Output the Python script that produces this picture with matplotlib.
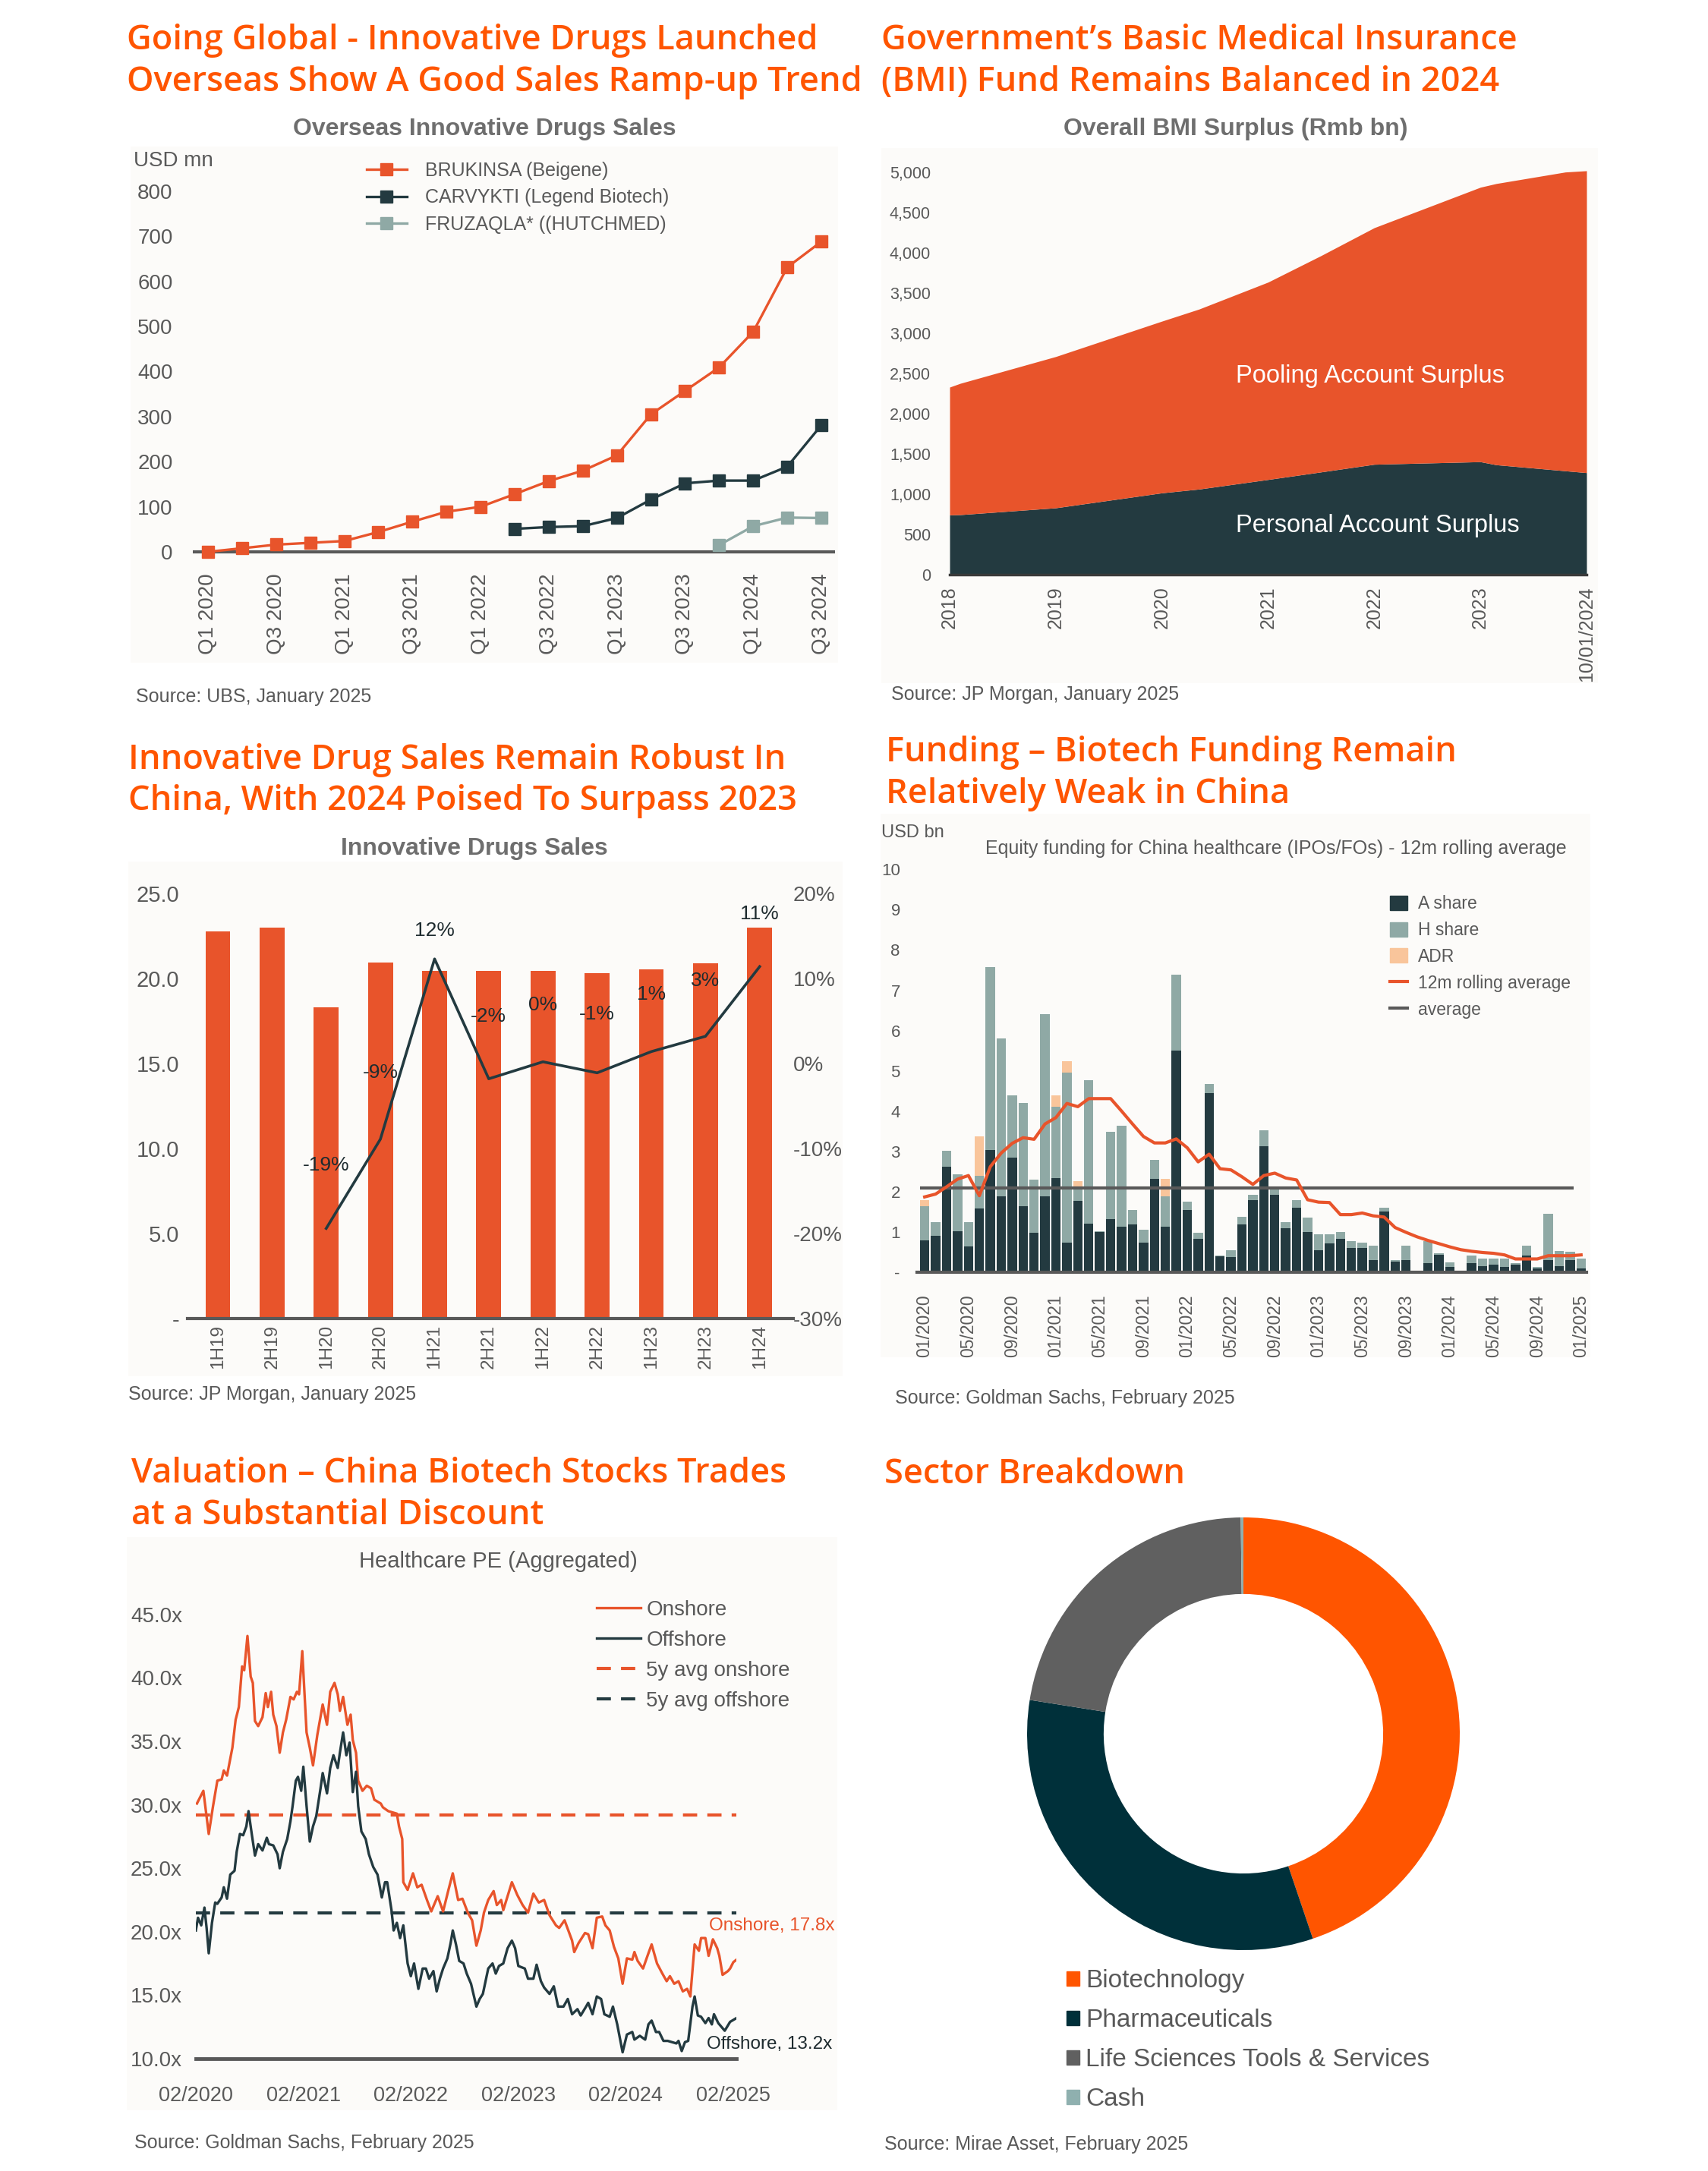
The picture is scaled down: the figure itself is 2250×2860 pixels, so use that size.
import numpy as np
import pandas as pd
import matplotlib.pyplot as plt
from matplotlib.patches import Rectangle, Patch
from matplotlib.lines import Line2D

plt.rcParams['font.family'] = ['Liberation Sans', 'DejaVu Sans']

# ==============================
# COLOURS
# ==============================
TITLE = '#FF5500'
ORANGE = '#E8542B'
DARK = '#233A40'
TEAL = '#8FA9A5'
PEACH = '#F9C59B'
GREY = '#595959'
SUB = '#6E6E6E'
BG = '#FCFBF9'

# ==============================
# DATA
# ==============================
# Overseas innovative drug sales (USD mn)
quarters = ['Q1 2020', 'Q2 2020', 'Q3 2020', 'Q4 2020', 'Q1 2021', 'Q2 2021', 'Q3 2021',
            'Q4 2021', 'Q1 2022', 'Q2 2022', 'Q3 2022', 'Q4 2022', 'Q1 2023', 'Q2 2023',
            'Q3 2023', 'Q4 2023', 'Q1 2024', 'Q2 2024', 'Q3 2024']
brukinsa = [0, 8, 16, 20, 24, 44, 67, 89, 100, 128, 157, 180, 214, 305, 357, 409, 488, 631, 688]
carvykti = [np.nan] * 9 + [51, 55, 57, 75, 116, 152, 158, 158, 189, 281]
fruzaqla = [np.nan] * 15 + [15, 57, 76, 75]

# BMI surplus (Rmb bn)
bmi_labels = ['2018', '2019', '2020', '2021', '2022', '2023', '10/01/2024']
bmi_pos = [0, 0.1, 1, 2, 2.35, 3, 3.5, 4, 5, 5.15, 5.8, 6]
bmi_personal = [742, 745, 830, 1016, 1063, 1182, 1276, 1371, 1403, 1365, 1290, 1267]
bmi_total = [2330, 2377, 2710, 3150, 3300, 3635, 3965, 4311, 4814, 4860, 5003, 5019]

# Innovative drug sales in China
halves = ['1H19', '2H19', '1H20', '2H20', '1H21', '2H21', '1H22', '2H22', '1H23', '2H23', '1H24']
sales = [22.75, 23.0, 18.3, 20.95, 20.45, 20.45, 20.45, 20.3, 20.55, 20.9, 23.0]
growth = [np.nan, np.nan, -19.4, -8.9, 12.3, -1.8, 0.2, -1.1, 1.4, 3.2, 11.4]

# Equity funding for China healthcare (USD bn), monthly 01/2020 - 01/2025
a_share = [0.80, 0.90, 2.61, 1.02, 0.64, 1.59, 3.03, 1.89, 2.85, 1.64,
           0.98, 1.89, 2.34, 0.74, 1.77, 1.20, 1.00, 1.32, 1.13, 1.19,
           0.73, 2.31, 1.13, 5.51, 1.54, 0.83, 4.45, 0.39, 0.38, 1.19,
           1.79, 3.12, 1.92, 1.10, 1.60, 0.99, 0.54, 0.71, 0.83, 0.61,
           0.61, 0.31, 1.51, 0.27, 0.31, 0.00, 0.23, 0.44, 0.13, 0.00,
           0.23, 0.16, 0.18, 0.14, 0.18, 0.41, 0.10, 0.31, 0.16, 0.31, 0.10]
h_share = [0.83, 0.34, 0.40, 1.42, 0.60, 0.80, 4.55, 3.92, 1.54, 2.56,
           1.31, 4.52, 1.77, 4.21, 0.36, 3.56, 0.02, 2.16, 2.51, 0.35,
           0.32, 0.47, 0.76, 1.87, 0.22, 0.15, 0.22, 0.02, 0.17, 0.18,
           0.13, 0.41, 0.15, 0.14, 0.19, 0.36, 0.41, 0.24, 0.16, 0.17,
           0.13, 0.35, 0.09, 0.04, 0.35, 0.00, 0.55, 0.04, 0.11, 0.00,
           0.18, 0.17, 0.16, 0.20, 0.04, 0.25, 0.03, 1.15, 0.36, 0.20, 0.23]
adr = [0.16, 0, 0, 0, 0, 0.98, 0, 0, 0, 0,
       0, 0, 0.28, 0.28, 0.13, 0, 0, 0, 0, 0,
       0, 0, 0.42, 0, 0, 0, 0, 0, 0, 0,
       0, 0, 0, 0, 0, 0, 0, 0, 0, 0,
       0, 0, 0, 0, 0, 0, 0, 0, 0, 0,
       0, 0, 0, 0, 0, 0, 0, 0, 0, 0, 0]
rolling = [1.87, 1.94, 2.12, 2.31, 2.40, 1.90, 2.62, 2.96, 3.20, 3.34,
           3.30, 3.68, 3.84, 4.19, 4.11, 4.31, 4.31, 4.31, 4.00, 3.68,
           3.37, 3.21, 3.21, 3.31, 3.09, 2.74, 2.93, 2.57, 2.54, 2.37,
           2.18, 2.40, 2.46, 2.34, 2.29, 1.80, 1.74, 1.73, 1.43, 1.43,
           1.47, 1.40, 1.37, 1.11, 0.99, 0.88, 0.79, 0.71, 0.63, 0.56,
           0.52, 0.49, 0.47, 0.43, 0.33, 0.33, 0.33, 0.41, 0.41, 0.41, 0.43]
funding_avg = 2.1

# Healthcare PE (years since 02/2020)
pe_on_t = [0.01, 0.07, 0.12, 0.16, 0.20, 0.24, 0.26, 0.29, 0.34, 0.37, 0.40, 0.43, 0.45, 0.48,
           0.51, 0.53, 0.55, 0.58, 0.62, 0.65, 0.67, 0.70, 0.72, 0.75, 0.78, 0.81, 0.84, 0.88,
           0.91, 0.94, 0.96, 0.99, 1.03, 1.06, 1.09, 1.13, 1.18, 1.22, 1.25, 1.29, 1.32, 1.34,
           1.37, 1.41, 1.44, 1.46, 1.49, 1.51, 1.55, 1.59, 1.63, 1.66, 1.72, 1.74, 1.79, 1.87,
           1.89, 1.92, 1.93, 1.97, 2.02, 2.06, 2.10, 2.15, 2.19, 2.25, 2.30, 2.35, 2.39, 2.44,
           2.48, 2.53, 2.57, 2.61, 2.65, 2.68, 2.72, 2.77, 2.80, 2.84, 2.86, 2.94, 2.99, 3.04,
           3.09, 3.14, 3.19, 3.24, 3.29, 3.35, 3.38, 3.43, 3.50, 3.52, 3.56, 3.62, 3.65, 3.69,
           3.73, 3.78, 3.81, 3.85, 3.89, 3.93, 3.97, 4.01, 4.06, 4.08, 4.11, 4.16, 4.21, 4.24,
           4.29, 4.34, 4.38, 4.41, 4.45, 4.49, 4.53, 4.57, 4.60, 4.64, 4.68, 4.70, 4.74, 4.77,
           4.81, 4.85, 4.87, 4.90, 4.95, 4.97, 5.00, 5.03]
pe_on = [30.1, 31.1, 27.7, 29.9, 31.9, 32.0, 32.7, 32.3, 34.5, 36.7, 37.7, 40.9, 40.6, 43.3,
         40.1, 39.6, 36.6, 36.2, 36.9, 38.8, 37.7, 38.9, 37.1, 36.2, 34.1, 35.7, 36.7, 38.5,
         38.3, 38.9, 38.7, 42.1, 35.7, 34.5, 33.1, 35.5, 37.9, 36.3, 38.9, 39.6, 38.7, 37.4,
         38.5, 36.3, 37.1, 35.1, 34.1, 31.9, 31.1, 31.5, 31.3, 30.4, 30.1, 29.8, 29.5, 29.3,
         28.3, 27.3, 23.9, 23.3, 24.6, 23.5, 23.7, 22.5, 21.6, 22.8, 21.6, 23.3, 24.6, 22.5,
         22.6, 21.5, 20.9, 18.9, 20.1, 21.5, 22.5, 23.2, 22.1, 22.5, 21.7, 23.9, 22.9, 22.1,
         21.5, 23.0, 22.3, 22.5, 21.3, 20.5, 20.3, 20.9, 19.3, 18.4, 19.1, 19.9, 19.8, 18.7,
         21.1, 21.2, 20.5, 20.1, 18.8, 17.9, 15.9, 17.9, 17.8, 18.4, 17.7, 17.1, 18.3, 19.0,
         17.5, 16.7, 16.1, 16.5, 15.9, 16.1, 15.3, 15.5, 14.9, 19.0, 18.5, 19.5, 19.5, 18.1,
         19.4, 18.7, 18.1, 16.6, 16.9, 17.1, 17.6, 17.8]
pe_off_t = [0.00, 0.02, 0.05, 0.08, 0.10, 0.12, 0.15, 0.18, 0.20, 0.24, 0.26, 0.29, 0.32, 0.36,
            0.38, 0.41, 0.44, 0.47, 0.49, 0.52, 0.55, 0.58, 0.62, 0.66, 0.68, 0.72, 0.76, 0.78,
            0.81, 0.85, 0.88, 0.90, 0.93, 0.95, 0.98, 1.00, 1.03, 1.06, 1.09, 1.12, 1.16, 1.18,
            1.22, 1.25, 1.28, 1.32, 1.34, 1.37, 1.40, 1.43, 1.46, 1.49, 1.51, 1.54, 1.58, 1.61,
            1.65, 1.69, 1.73, 1.76, 1.78, 1.82, 1.84, 1.87, 1.90, 1.93, 1.97, 2.00, 2.03, 2.07,
            2.11, 2.14, 2.17, 2.21, 2.24, 2.27, 2.30, 2.34, 2.37, 2.39, 2.42, 2.45, 2.49, 2.52,
            2.56, 2.61, 2.64, 2.67, 2.72, 2.76, 2.79, 2.82, 2.86, 2.90, 2.94, 2.97, 3.00, 3.06,
            3.09, 3.14, 3.17, 3.21, 3.24, 3.29, 3.33, 3.37, 3.42, 3.46, 3.50, 3.55, 3.58, 3.63,
            3.65, 3.69, 3.73, 3.77, 3.80, 3.85, 3.88, 3.92, 3.97, 4.01, 4.06, 4.08, 4.13, 4.18,
            4.21, 4.24, 4.28, 4.31, 4.35, 4.39, 4.43, 4.47, 4.49, 4.52, 4.55, 4.58, 4.62, 4.64,
            4.67, 4.70, 4.74, 4.77, 4.80, 4.82, 4.86, 4.89, 4.92, 4.97, 5.03]
pe_off = [20.1, 21.1, 20.5, 21.9, 20.3, 18.3, 20.7, 22.3, 22.2, 22.7, 23.5, 22.6, 24.5, 24.8,
          26.3, 27.7, 27.6, 28.3, 29.5, 27.7, 26.0, 26.9, 26.4, 27.4, 26.9, 26.8, 26.1, 25.0,
          26.3, 27.3, 28.7, 29.9, 31.9, 32.2, 31.1, 33.0, 29.9, 27.1, 28.3, 29.1, 31.3, 32.5,
          30.9, 32.9, 33.9, 32.9, 34.1, 35.7, 33.9, 34.9, 31.0, 32.6, 29.9, 27.9, 27.3, 26.1,
          25.1, 24.5, 22.7, 23.9, 23.9, 21.7, 20.1, 20.7, 19.5, 20.5, 17.5, 16.5, 17.5, 15.5,
          17.1, 17.1, 16.3, 16.9, 15.3, 16.3, 17.1, 17.9, 19.1, 20.1, 19.0, 17.7, 17.5, 16.7,
          15.9, 14.1, 14.7, 15.1, 17.1, 17.5, 16.7, 17.3, 17.5, 18.7, 19.3, 18.7, 17.3, 17.1,
          16.3, 16.3, 17.4, 16.1, 15.6, 15.1, 15.7, 14.1, 14.1, 14.7, 13.5, 13.9, 13.4, 14.1,
          14.4, 13.5, 14.9, 14.7, 13.5, 13.3, 14.1, 12.7, 10.5, 11.9, 12.1, 11.5, 11.8, 11.5,
          12.7, 13.0, 12.1, 12.1, 11.4, 11.4, 11.3, 11.2, 11.4, 10.6, 11.3, 11.4, 14.1, 14.9,
          13.4, 13.3, 12.8, 13.2, 12.7, 13.5, 12.8, 12.5, 12.2, 12.9, 13.2]
pe_years = ['02/2020', '02/2021', '02/2022', '02/2023', '02/2024', '02/2025']
avg_on = 29.2
avg_off = 21.5

# Sector breakdown (%)
sectors = ['Biotechnology', 'Pharmaceuticals', 'Life Sciences Tools & Services', 'Cash']
weights = [44.8, 32.7, 22.3, 0.2]
sector_colors = ['#FF5500', '#00303A', '#606060', '#8FB0AF']

# ==============================
# FIGURE / LAYOUT HELPERS (pixel coords, origin top-left)
# ==============================
W, H = 2250, 2860
fig = plt.figure(figsize=(W / 100, H / 100), dpi=100)
TITLE_FONT = ['Open Sans', 'DejaVu Sans']
TITLE_SIZE = 32.5


def ax_at(x0, y0, x1, y1):
    a = fig.add_axes([x0 / W, 1 - y1 / H, (x1 - x0) / W, (y1 - y0) / H])
    a.set_facecolor('none')
    for s in a.spines.values():
        s.set_visible(False)
    return a


def panel_bg(x0, y0, x1, y1):
    fig.add_artist(Rectangle((x0 / W, 1 - y1 / H), (x1 - x0) / W, (y1 - y0) / H,
                             transform=fig.transFigure, fc=BG, ec='none', zorder=-5))


def ftext(x, y, s, **kw):
    return fig.text(x / W, 1 - y / H, s, **kw)


def title(x, baselines, lines):
    for yb, line in zip(baselines, lines):
        ftext(x, yb, line, color=TITLE, fontsize=TITLE_SIZE, fontweight='semibold',
              family=TITLE_FONT, va='baseline', ha='left')


def fig_anchor(x, y):
    return (x / W, 1 - y / H)


# ==============================
# 1. Overseas innovative drugs sales
# ==============================
title(167, [65, 120], ['Going Global - Innovative Drugs Launched',
                       'Overseas Show A Good Sales Ramp-up Trend'])
panel_bg(172, 193, 1104, 873)
ftext(638, 170, 'Overseas Innovative Drugs Sales', fontsize=23, fontweight='bold',
      color=SUB, ha='center', va='center')
ftext(176, 212, 'USD mn', fontsize=20, color=GREY, ha='left', va='center')

ax1 = ax_at(254, 200, 1100, 740)
xq = np.arange(len(quarters))
ax1.axhline(0, color=GREY, lw=3, zorder=1)
l1, = ax1.plot(xq, brukinsa, '-s', color=ORANGE, lw=2.4, ms=12, zorder=3)
l2, = ax1.plot(xq, carvykti, '-s', color=DARK, lw=2.4, ms=12, zorder=3)
l3, = ax1.plot(xq, fruzaqla, '-s', color=TEAL, lw=2.4, ms=12, zorder=3)
ax1.set_xlim(-0.445, 18.4)
ax1.set_ylim(-21.9, 887)
ax1.set_yticks(range(0, 801, 100))
ax1.set_xticks(xq[::2])
ax1.set_xticklabels(quarters[::2], rotation=90)
ax1.tick_params(axis='y', length=0, pad=19, labelsize=20, labelcolor=GREY)
ax1.tick_params(axis='x', length=0, pad=11, labelsize=20, labelcolor=GREY)
ax1.legend([l1, l2, l3], ['BRUKINSA (Beigene)', 'CARVYKTI (Legend Biotech)', 'FRUZAQLA* ((HUTCHMED)'],
           loc='upper left', bbox_to_anchor=fig_anchor(483, 213), bbox_transform=fig.transFigure,
           frameon=False, fontsize=18, labelcolor=GREY, handlelength=2.1, handletextpad=1.0,
           labelspacing=0.46, borderpad=0, borderaxespad=0, numpoints=1)
ftext(179, 918, 'Source: UBS, January 2025', fontsize=18, color=GREY, ha='left', va='center')

# ==============================
# 2. BMI surplus
# ==============================
title(1161, [65, 120], ['Government\u2019s Basic Medical Insurance',
                        '(BMI) Fund Remains Balanced in 2024'])
panel_bg(1161, 195, 2105, 900)
ftext(1628, 170, 'Overall BMI Surplus (Rmb bn)', fontsize=23, fontweight='bold',
      color=SUB, ha='center', va='center')

ax2 = ax_at(1251, 210, 2090, 757)
ax2.fill_between(bmi_pos, 0, bmi_personal, color=DARK, lw=0)
ax2.fill_between(bmi_pos, bmi_personal, bmi_total, color=ORANGE, lw=0)
ax2.set_xlim(0, 6)
ax2.set_ylim(0, 5160)
ax2.set_yticks(range(0, 5001, 500))
ax2.set_yticklabels([f'{v:,}' for v in range(0, 5001, 500)])
ax2.set_xticks(range(len(bmi_labels)))
ax2.set_xticklabels(bmi_labels, rotation=90)
ax2.spines['bottom'].set_visible(True)
ax2.spines['bottom'].set_color('#3A3A3A')
ax2.spines['bottom'].set_linewidth(2.5)
ax2.tick_params(axis='y', length=0, pad=18, labelsize=15.5, labelcolor=GREY)
ax2.tick_params(axis='x', length=0, pad=11, labelsize=18, labelcolor=GREY)
ax2.text(3.96, 2470, 'Pooling Account Surplus', color='white', fontsize=23.5, ha='center', va='center')
ax2.text(4.03, 604, 'Personal Account Surplus', color='white', fontsize=23.5, ha='center', va='center')
ftext(1174, 915, 'Source: JP Morgan, January 2025', fontsize=18, color=GREY, ha='left', va='center')

# ==============================
# 3. Innovative drug sales (China)
# ==============================
title(169, [1013, 1067], ['Innovative Drug Sales Remain Robust In',
                          'China, With 2024 Poised To Surpass 2023'])
panel_bg(169, 1135, 1110, 1813)
ftext(625, 1118, 'Innovative Drugs Sales', fontsize=23, fontweight='bold',
      color=SUB, ha='center', va='center')

ax3 = ax_at(247, 1160, 1045, 1737)
xh = np.arange(len(halves))
ax3.bar(xh, sales, width=0.46, color=ORANGE, zorder=2)
ax3.set_xlim(-0.56, 10.62)
ax3.set_ylim(0, 25.76)
ax3.set_yticks([0, 5, 10, 15, 20, 25])
ax3.set_yticklabels(['-', '5.0', '10.0', '15.0', '20.0', '25.0'])
ax3.set_xticks(xh)
ax3.set_xticklabels(halves, rotation=90)
ax3.spines['bottom'].set_visible(True)
ax3.spines['bottom'].set_color(GREY)
ax3.spines['bottom'].set_linewidth(3)
ax3.tick_params(axis='y', length=0, pad=8, labelsize=21, labelcolor=GREY)
ax3.tick_params(axis='x', length=0, pad=6, labelsize=17.5, labelcolor=GREY)

ax3r = ax3.twinx()
for s in ax3r.spines.values():
    s.set_visible(False)
ax3r.plot(xh, growth, color=DARK, lw=2.6, zorder=4)
ax3r.set_ylim(-30, 21.52)
ax3r.set_yticks(range(-30, 21, 10))
ax3r.set_yticklabels([f'{v}%' for v in range(-30, 21, 10)])
ax3r.tick_params(axis='y', length=0, pad=0, labelsize=20, labelcolor=GREY)
label_dy = [60, 63, 27, 59, 54, 56, 54, 53, 50]
k = 0
for xi, g in zip(xh, growth):
    if np.isnan(g):
        continue
    ax3r.annotate(f'{round(g):.0f}%', (xi, g), xytext=(0, label_dy[k]), textcoords='offset points',
                  ha='center', va='center', fontsize=19, color='#1E2B2F')
    k += 1
ftext(169, 1837, 'Source: JP Morgan, January 2025', fontsize=18, color=GREY, ha='left', va='center')

# ==============================
# 4. Biotech funding
# ==============================
title(1167, [1003, 1058], ['Funding \u2013 Biotech Funding Remain', 'Relatively Weak in China'])
panel_bg(1160, 1072, 2095, 1788)
ftext(1161, 1097, 'USD bn', fontsize=17, color=GREY, ha='left', va='center')
ftext(1681, 1118, 'Equity funding for China healthcare (IPOs/FOs) - 12m rolling average',
      fontsize=18, color=GREY, ha='center', va='center')

ax4 = ax_at(1208, 1140, 2090, 1676)
months = np.arange(len(a_share))
month_labels = pd.date_range('2020-01-01', periods=len(a_share), freq='MS').strftime('%m/%Y')
a_arr = np.array(a_share)
h_arr = np.array(h_share)
ax4.bar(months, a_arr, width=0.86, color=DARK, zorder=2)
ax4.bar(months, h_arr, bottom=a_arr, width=0.86, color=TEAL, zorder=2)
ax4.bar(months, adr, bottom=a_arr + h_arr, width=0.86, color=PEACH, zorder=2)
ax4.plot(months, rolling, color=ORANGE, lw=3, zorder=4)
ax4.hlines(funding_avg, -0.45, len(months) - 1.7, color=GREY, lw=3, zorder=3)
ax4.set_xlim(-0.7, 60.5)
ax4.set_ylim(0, 10.1)
ax4.set_yticks(range(0, 11))
ax4.set_yticklabels(['-'] + [str(v) for v in range(1, 11)])
ax4.set_xticks(months[::4])
ax4.set_xticklabels(month_labels[::4], rotation=90)
ax4.spines['bottom'].set_visible(True)
ax4.spines['bottom'].set_color(GREY)
ax4.spines['bottom'].set_linewidth(3)
ax4.tick_params(axis='y', length=0, pad=16, labelsize=16, labelcolor=GREY)
ax4.tick_params(axis='x', length=0, pad=21, labelsize=16.5, labelcolor=GREY)
ax4.legend([Patch(color=DARK), Patch(color=TEAL), Patch(color=PEACH),
            Line2D([], [], color=ORANGE, lw=3), Line2D([], [], color=GREY, lw=3)],
           ['A share', 'H share', 'ADR', '12m rolling average', 'average'],
           loc='upper left', bbox_to_anchor=fig_anchor(1831, 1179), bbox_transform=fig.transFigure,
           frameon=False, fontsize=16.5, labelcolor=GREY, handlelength=1.0, handleheight=0.9,
           handletextpad=0.6, labelspacing=0.52, borderpad=0, borderaxespad=0)
ftext(1179, 1842, 'Source: Goldman Sachs, February 2025', fontsize=18, color=GREY, ha='left', va='center')

# ==============================
# 5. Healthcare PE
# ==============================
title(173, [1953, 2008], ['Valuation \u2013 China Biotech Stocks Trades', 'at a Substantial Discount'])
panel_bg(167, 2025, 1103, 2780)
ftext(656, 2057, 'Healthcare PE (Aggregated)', fontsize=21, color=GREY, ha='center', va='center')

ax5 = ax_at(258, 2110, 970, 2712)
p1, = ax5.plot(pe_on_t, pe_on, color=ORANGE, lw=2.4, zorder=3)
p2, = ax5.plot(pe_off_t, pe_off, color=DARK, lw=2.4, zorder=3)
p3 = ax5.axhline(avg_on, color=ORANGE, lw=3, dashes=(4.5, 3.2), zorder=2)
p4 = ax5.axhline(avg_off, color=DARK, lw=3, dashes=(4.5, 3.2), zorder=2)
ax5.set_xlim(0, 5.028)
ax5.set_ylim(10, 46.0)
ax5.set_yticks(range(10, 46, 5))
ax5.set_yticklabels([f'{v:.1f}x' for v in range(10, 46, 5)])
ax5.set_xticks(range(len(pe_years)))
ax5.set_xticklabels(pe_years)
ax5.spines['bottom'].set_visible(True)
ax5.spines['bottom'].set_color(GREY)
ax5.spines['bottom'].set_linewidth(3.5)
ax5.tick_params(axis='y', length=0, pad=13, labelsize=20, labelcolor=GREY)
ax5.tick_params(axis='x', length=0, pad=26, labelsize=19.5, labelcolor=GREY)
ax5.text(4.774, 20.47, f'Onshore, {pe_on[-1]:.1f}x', color=ORANGE, fontsize=17.5,
         ha='left', va='center', clip_on=False)
ax5.text(4.753, 11.14, f'Offshore, {pe_off[-1]:.1f}x', color='#1E2B2F', fontsize=17.5,
         ha='left', va='center', clip_on=False)
ax5.legend([p1, p2, p3, p4], ['Onshore', 'Offshore', '5y avg onshore', '5y avg offshore'],
           loc='upper left', bbox_to_anchor=fig_anchor(786, 2108), bbox_transform=fig.transFigure,
           frameon=False, fontsize=20, labelcolor=GREY, handlelength=2.1, handletextpad=0.25,
           labelspacing=0.5, borderpad=0, borderaxespad=0)
ftext(177, 2823, 'Source: Goldman Sachs, February 2025', fontsize=18, color=GREY, ha='left', va='center')

# ==============================
# 6. Sector breakdown
# ==============================
ftext(1165, 1954, 'Sector Breakdown', color=TITLE, fontsize=TITLE_SIZE, fontweight='semibold',
      family=TITLE_FONT, va='baseline', ha='left')
ax6 = ax_at(1638 - 285, 2284 - 285, 1638 + 285, 2284 + 285)
ax6.pie(weights, colors=sector_colors, startangle=90, counterclock=False, radius=1,
        wedgeprops=dict(width=0.354, edgecolor='none'))
ax6.set_xlim(-1, 1)
ax6.set_ylim(-1, 1)
ax6.legend([Patch(color=c) for c in sector_colors], sectors,
           loc='upper left', bbox_to_anchor=fig_anchor(1405, 2594), bbox_transform=fig.transFigure,
           frameon=False, fontsize=24, labelcolor=GREY, handlelength=0.5, handleheight=0.5,
           handletextpad=0.25, labelspacing=0.63, borderpad=0, borderaxespad=0)
ftext(1165, 2825, 'Source: Mirae Asset, February 2025', fontsize=18, color=GREY, ha='left', va='center')

fig.savefig('out.png', dpi=100)
